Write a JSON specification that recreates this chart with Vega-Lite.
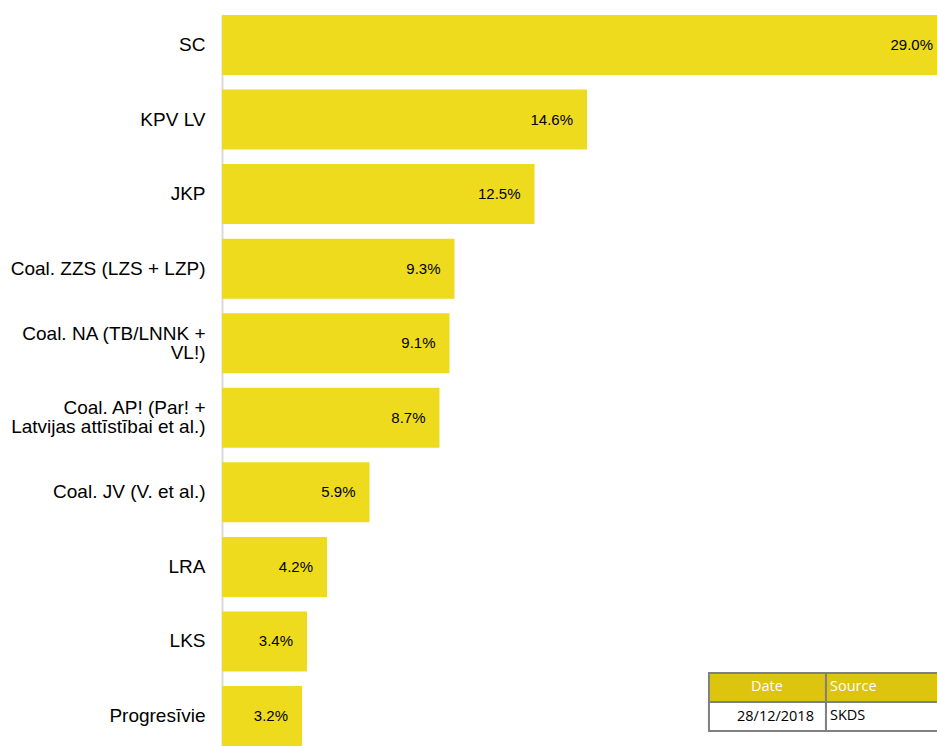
{
  "$schema": "https://vega.github.io/schema/vega-lite/v6.json",
  "autosize": "none",
  "width": 715,
  "height": 731,
  "padding": {"left": 222, "top": 15, "right": 0, "bottom": 0},
  "background": "#ffffff",
  "config": {"view": {"stroke": null}, "font": "Liberation Sans"},
  "layer": [
    {
      "data": {
        "values": [
          {"party": "SC", "share": 0.290},
          {"party": "KPV LV", "share": 0.146},
          {"party": "JKP", "share": 0.125},
          {"party": "Coal. ZZS (LZS + LZP)", "share": 0.093},
          {"party": "Coal. NA (TB/LNNK + VL!)", "share": 0.091},
          {"party": "Coal. AP! (Par! + Latvijas attīstībai et al.)", "share": 0.087},
          {"party": "Coal. JV (V. et al.)", "share": 0.059},
          {"party": "LRA", "share": 0.042},
          {"party": "LKS", "share": 0.034},
          {"party": "Progresīvie", "share": 0.032}
        ]
      },
      "encoding": {
        "y": {
          "field": "party",
          "type": "nominal",
          "sort": null,
          "scale": {"paddingInner": 0.195, "paddingOuter": 0},
          "axis": {
            "title": null,
            "ticks": false,
            "domainColor": "#d9d9d9",
            "domainWidth": 2,
            "labelFont": "Liberation Sans",
            "labelFontSize": 19,
            "labelColor": "#000000",
            "labelPadding": 17,
            "labelLimit": 400,
            "labelLineHeight": 19,
            "labelOffset": {"condition": {"test": "indexof(datum.value, 'Coal. NA') == 0 || indexof(datum.value, 'Coal. AP!') == 0", "value": -9.5}, "value": 0},
            "labelExpr": "datum.value == 'Coal. NA (TB/LNNK + VL!)' ? ['Coal. NA (TB/LNNK +', 'VL!)'] : datum.value == 'Coal. AP! (Par! + Latvijas attīstībai et al.)' ? ['Coal. AP! (Par! +', 'Latvijas attīstībai et al.)'] : datum.value"
          }
        },
        "x": {
          "field": "share",
          "type": "quantitative",
          "scale": {"domain": [0, 0.286], "nice": false, "zero": true},
          "axis": null
        }
      },
      "layer": [
        {"mark": {"type": "bar", "fill": "#eedb1e", "clip": true}},
        {
          "mark": {"type": "text", "align": "right", "baseline": "middle", "dx": -14, "fontSize": 15, "font": "Liberation Sans", "color": "#000000"},
          "encoding": {"text": {"field": "share", "type": "quantitative", "format": ".1%"}}
        }
      ]
    },
    {
      "layer": [
        {
          "data": {
            "values": [
              {"c0": 0, "c1": 1, "r0": 0, "r1": 1, "kind": "header"},
              {"c0": 1, "c1": 2, "r0": 0, "r1": 1, "kind": "header"},
              {"c0": 0, "c1": 1, "r0": 1, "r1": 2, "kind": "body"},
              {"c0": 1, "c1": 2, "r0": 1, "r1": 2, "kind": "body"}
            ]
          },
          "mark": {"type": "rect", "stroke": "#808080", "strokeWidth": 2},
          "encoding": {
            "x": {"field": "c0", "type": "quantitative", "scale": {"domain": [-4.162, 1.949], "nice": false, "zero": false}, "axis": null},
            "x2": {"field": "c1"},
            "y": {"field": "r0", "type": "quantitative", "scale": {"domain": [-22.69, 2.517], "nice": false, "zero": false, "reverse": true}, "axis": null},
            "y2": {"field": "r1"},
            "fill": {"field": "kind", "type": "nominal", "scale": {"domain": ["header", "body"], "range": ["#dcc40f", "#ffffff"]}, "legend": null}
          }
        },
        {
          "data": {
            "values": [
              {"label": "Date", "col": 0, "row": 0, "kind": "header"},
              {"label": "Source", "col": 1, "row": 0, "kind": "header"},
              {"label": "28/12/2018", "col": 0, "row": 1, "kind": "body"},
              {"label": "SKDS", "col": 1, "row": 1, "kind": "body"}
            ]
          },
          "encoding": {
            "y": {"field": "row", "type": "quantitative"},
            "color": {"field": "kind", "type": "nominal", "scale": {"domain": ["header", "body"], "range": ["#ffffff", "#000000"]}, "legend": null},
            "text": {"field": "label"}
          },
          "layer": [
            {
              "transform": [{"filter": "datum.label == 'Date'"}],
              "mark": {"type": "text", "align": "center", "baseline": "middle", "dx": 58, "dy": 14, "font": "Open Sans", "fontSize": 14.5},
              "encoding": {"x": {"field": "col", "type": "quantitative"}}
            },
            {
              "transform": [{"filter": "datum.col == 1"}],
              "mark": {"type": "text", "align": "left", "baseline": "middle", "dx": 4, "dy": 14, "font": "Open Sans", "fontSize": 14.5},
              "encoding": {"x": {"field": "col", "type": "quantitative"}}
            },
            {
              "transform": [{"filter": "datum.label == '28/12/2018'"}],
              "mark": {"type": "text", "align": "right", "baseline": "middle", "dx": 105, "dy": 15, "font": "Open Sans", "fontSize": 14.5},
              "encoding": {"x": {"field": "col", "type": "quantitative"}}
            }
          ]
        }
      ]
    }
  ],
  "resolve": {"scale": {"x": "independent", "y": "independent", "color": "independent", "fill": "independent"}}
}
